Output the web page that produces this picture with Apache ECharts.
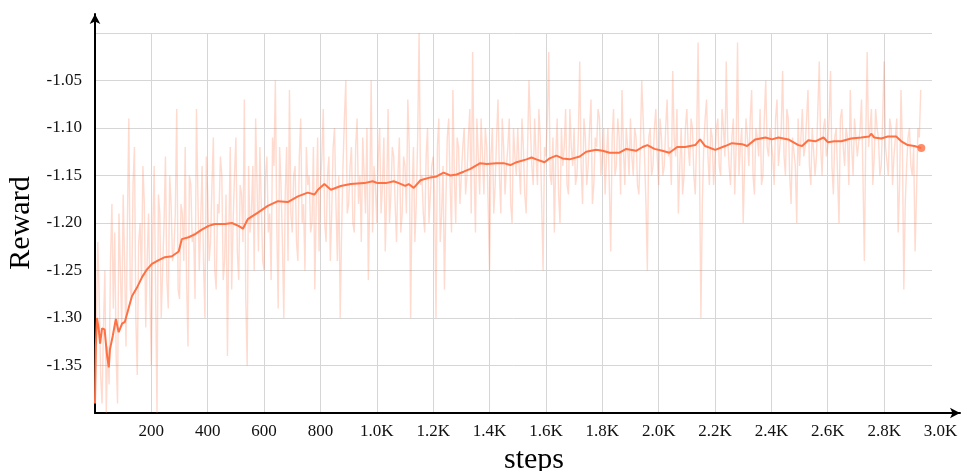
<!DOCTYPE html>
<html>
<head>
<meta charset="utf-8">
<script src="https://cdn.jsdelivr.net/npm/echarts@6/dist/echarts.min.js"></script>
<style>
  html, body {
    margin: 0;
    padding: 0;
    background: #fff;
  }
  #chart {
    width: 969px;
    height: 471px;
  }
</style>
</head>
<body>
<div id="chart"></div>
<script>
// raw reward, one value every 10 steps starting at step 0
let rawStep = 10
let rawValues = [
  -1.39, -1.22, -1.36, -1.31, -1.40, -1.37, -1.18, -1.21, -1.39, -1.25,
  -1.17, -1.33, -1.09, -1.28, -1.12, -1.36, -1.20, -1.14, -1.31, -1.19,
  -1.35, -1.14, -1.40, -1.19, -1.25, -1.13, -1.29, -1.18, -1.23, -1.08,
  -1.28, -1.19, -1.12, -1.33, -1.16, -1.21, -1.08, -1.25, -1.14, -1.30,
  -1.17, -1.22, -1.11, -1.27, -1.19, -1.15, -1.24, -1.34, -1.12, -1.20,
  -1.11, -1.26, -1.17, -1.07, -1.35, -1.21, -1.14, -1.09, -1.23, -1.18,
  -1.25, -1.13, -1.19, -1.11, -1.05, -1.29, -1.16, -1.30, -1.12, -1.06,
  -1.21, -1.14, -1.24, -1.09, -1.18, -1.12, -1.15, -1.20, -1.27, -1.11,
  -1.16, -1.08, -1.22, -1.13, -1.19, -1.10, -1.24, -1.30, -1.14, -1.05,
  -1.18, -1.12, -1.21, -1.09, -1.15, -1.11, -1.19, -1.26, -1.05, -1.14,
  -1.20, -1.10, -1.16, -1.23, -1.08, -1.17, -1.13, -1.22, -1.11, -1.19,
  -1.14, -1.07, -1.30, -1.12, -1.18, -1.00, -1.15, -1.21, -1.10, -1.17,
  -1.13, -1.30, -1.09, -1.19, -1.27, -1.11, -1.16, -1.06, -1.20, -1.12,
  -1.18, -1.10, -1.15, -1.08, -1.02, -1.21, -1.13, -1.09, -1.17, -1.12,
  -1.25, -1.10, -1.16, -1.07, -1.19, -1.12, -1.14, -1.09, -1.20, -1.13,
  -1.10, -1.17, -1.12, -1.19, -1.05, -1.14, -1.09, -1.16, -1.11, -1.25,
  -1.13, -1.02, -1.16, -1.21, -1.09, -1.20, -1.14, -1.08, -1.17, -1.12,
  -1.10, -1.15, -1.03, -1.18, -1.11, -1.14, -1.07, -1.16, -1.12, -1.09,
  -1.13, -1.17, -1.10, -1.23, -1.08, -1.14, -1.11, -1.06, -1.16, -1.12,
  -1.09, -1.15, -1.11, -1.17, -1.05, -1.13, -1.25, -1.10, -1.14, -1.08,
  -1.16, -1.11, -1.14, -1.07, -1.12, -1.04, -1.13, -1.19, -1.10, -1.15,
  -1.08, -1.14, -1.10, -1.17, -1.01, -1.30, -1.12, -1.07, -1.16, -1.11,
  -1.13, -1.09, -1.15, -1.10, -1.03, -1.14, -1.11, -1.17, -1.01, -1.12,
  -1.20, -1.09, -1.14, -1.06, -1.17, -1.11, -1.08, -1.15, -1.05, -1.13,
  -1.10, -1.16, -1.07, -1.12, -1.04, -1.15, -1.09, -1.18, -1.11, -1.20,
  -1.14, -1.08, -1.12, -1.06, -1.16, -1.10, -1.13, -1.03, -1.15, -1.09,
  -1.12, -1.04, -1.17, -1.10, -1.20, -1.08, -1.14, -1.11, -1.06, -1.15,
  -1.09, -1.13, -1.07, -1.24, -1.02, -1.12, -1.16, -1.08, -1.11, -1.14,
  -1.03, -1.12, -1.09, -1.16, -1.11, -1.21, -1.06, -1.27, -1.14, -1.10,
  -1.15, -1.23, -1.10, -1.06
]
// raw reward at the steps in between (5, 15, 25, ...)
let rawMidValues = [
  -1.30, -1.28, -1.39, -1.25, -1.33, -1.24, -1.29, -1.34, -1.19, -1.31,
  -1.24, -1.20, -1.27, -1.16, -1.30, -1.22, -1.26, -1.18, -1.24, -1.28,
  -1.21, -1.27, -1.17, -1.30, -1.20, -1.26, -1.15, -1.24, -1.19, -1.27,
  -1.18, -1.24, -1.26, -1.15, -1.22, -1.28, -1.17, -1.20, -1.24, -1.13,
  -1.24, -1.16, -1.25, -1.18, -1.13, -1.26, -1.17, -1.21, -1.27, -1.15,
  -1.23, -1.16, -1.22, -1.28, -1.14, -1.19, -1.25, -1.16, -1.12, -1.24,
  -1.15, -1.21, -1.26, -1.14, -1.20, -1.12, -1.22, -1.17, -1.24, -1.19,
  -1.15, -1.22, -1.13, -1.20, -1.25, -1.16, -1.21, -1.12, -1.18, -1.23,
  -1.13, -1.20, -1.15, -1.24, -1.12, -1.18, -1.15, -1.21, -1.09, -1.19,
  -1.14, -1.20, -1.12, -1.18, -1.22, -1.15, -1.10, -1.17, -1.21, -1.16,
  -1.13, -1.19, -1.11, -1.17, -1.20, -1.12, -1.18, -1.15, -1.21, -1.13,
  -1.19, -1.12, -1.17, -1.22, -1.11, -1.16, -1.19, -1.13, -1.20, -1.14,
  -1.17, -1.12, -1.22, -1.14, -1.18, -1.09, -1.21, -1.15, -1.11, -1.18,
  -1.12, -1.17, -1.11, -1.19, -1.14, -1.09, -1.17, -1.13, -1.10, -1.18,
  -1.13, -1.19, -1.11, -1.15, -1.09, -1.17, -1.12, -1.18, -1.10, -1.15,
  -1.14, -1.09, -1.17, -1.12, -1.10, -1.16, -1.13, -1.08, -1.18, -1.12,
  -1.09, -1.15, -1.11, -1.13, -1.17, -1.10, -1.12, -1.16, -1.08, -1.14,
  -1.16, -1.11, -1.14, -1.09, -1.16, -1.10, -1.18, -1.11, -1.08, -1.15,
  -1.10, -1.13, -1.16, -1.11, -1.15, -1.09, -1.17, -1.12, -1.10, -1.15,
  -1.13, -1.10, -1.16, -1.12, -1.09, -1.18, -1.11, -1.15, -1.10, -1.13,
  -1.09, -1.15, -1.10, -1.13, -1.16, -1.11, -1.08, -1.14, -1.17, -1.10,
  -1.12, -1.09, -1.15, -1.11, -1.14, -1.18, -1.09, -1.13, -1.10, -1.16,
  -1.10, -1.14, -1.08, -1.13, -1.11, -1.16, -1.09, -1.12, -1.15, -1.10,
  -1.14, -1.11, -1.09, -1.15, -1.10, -1.13, -1.16, -1.09, -1.12, -1.10,
  -1.13, -1.09, -1.14, -1.10, -1.13, -1.08, -1.15, -1.11, -1.14, -1.09,
  -1.11, -1.13, -1.09, -1.14, -1.10, -1.15, -1.08, -1.12, -1.10, -1.13,
  -1.09, -1.14, -1.11, -1.15, -1.09, -1.12, -1.10, -1.16, -1.12, -1.09,
  -1.13, -1.10, -1.15, -1.11, -1.12, -1.08, -1.13, -1.10, -1.15, -1.09,
  -1.12, -1.15, -1.10, -1.13, -1.09, -1.16, -1.12, -1.18, -1.11, -1.14,
  -1.12, -1.17, -1.11
]

// smoothed curve
let smoothSteps = [
  0, 3, 7, 13, 18, 25, 34, 43, 49, 53, 63, 74, 84, 96, 106, 119, 131, 149,
  167, 184, 202, 226, 248, 273, 297, 308, 332, 354, 379, 403, 425, 461, 486,
  509, 525, 542, 578, 613, 649, 684, 720, 755, 779, 791, 814, 837, 872, 907,
  956, 985, 1003, 1032, 1060, 1078, 1101, 1113, 1131, 1155, 1190, 1212,
  1237, 1261, 1283, 1308, 1332, 1367, 1390, 1425, 1450, 1474, 1496, 1531,
  1549, 1566, 1595, 1613, 1637, 1659, 1684, 1720, 1743, 1778, 1801, 1826,
  1861, 1885, 1920, 1943, 1960, 1985, 2013, 2038, 2066, 2094, 2130, 2147,
  2165, 2201, 2236, 2260, 2296, 2314, 2343, 2379, 2402, 2425, 2460, 2496,
  2509, 2531, 2556, 2585, 2601, 2623, 2648, 2683, 2719, 2747, 2754, 2765,
  2790, 2813, 2843, 2861, 2884, 2907, 2932
]
let smoothValues = [
  -1.390, -1.330, -1.300, -1.311, -1.327, -1.311, -1.312, -1.340, -1.352,
  -1.333, -1.319, -1.301, -1.315, -1.306, -1.304, -1.290, -1.277, -1.268,
  -1.257, -1.249, -1.243, -1.239, -1.236, -1.235, -1.230, -1.217, -1.215,
  -1.212, -1.207, -1.203, -1.201, -1.201, -1.200, -1.203, -1.206, -1.196,
  -1.189, -1.182, -1.177, -1.178, -1.172, -1.168, -1.170, -1.165, -1.159,
  -1.165, -1.161, -1.159, -1.158, -1.156, -1.158, -1.158, -1.156, -1.158,
  -1.161, -1.159, -1.163, -1.155, -1.152, -1.151, -1.147, -1.150, -1.149,
  -1.146, -1.143, -1.137, -1.138, -1.137, -1.137, -1.139, -1.136, -1.133,
  -1.131, -1.133, -1.136, -1.132, -1.129, -1.132, -1.133, -1.130, -1.125,
  -1.123, -1.124, -1.126, -1.126, -1.122, -1.124, -1.120, -1.118, -1.122,
  -1.124, -1.126, -1.120, -1.120, -1.118, -1.112, -1.119, -1.123, -1.119,
  -1.116, -1.117, -1.119, -1.112, -1.110, -1.112, -1.110, -1.112, -1.118,
  -1.119, -1.113, -1.114, -1.110, -1.115, -1.114, -1.114, -1.111, -1.110,
  -1.109, -1.106, -1.110, -1.111, -1.109, -1.109, -1.114, -1.118, -1.119,
  -1.121
]

let yTicks = [-1.35, -1.30, -1.25, -1.20, -1.15, -1.10, -1.05]

let rawData = []
rawValues.forEach((v, i) => {
  rawData.push([i * rawStep, v])
  if (i < rawMidValues.length) rawData.push([i * rawStep + rawStep / 2, rawMidValues[i]])
})
let smoothData = smoothSteps.map((s, i) => [s, smoothValues[i]])
let lastPoint = smoothData[smoothData.length - 1]

let serif = 'Liberation Serif'
let orange = '#ff7043'

let myChart = echarts.init(document.getElementById('chart'))
myChart.setOption({
  animation: false,
  grid: [
    // plot area
    { left: 95, right: 37, top: 33, bottom: 58, outerBoundsMode: 'none' },
    // axes with arrows
    { left: 95, right: 9, top: 14, bottom: 58, outerBoundsMode: 'none' }
  ],
  xAxis: [
    {
      gridIndex: 0,
      type: 'value',
      min: 0,
      max: 2970,
      interval: 200,
      axisLine: { show: false },
      axisTick: { show: false },
      axisLabel: { show: false },
      splitLine: {
        show: true,
        showMaxLine: false,
        lineStyle: { color: '#d6d6d6', width: 1 }
      }
    },
    {
      gridIndex: 1,
      type: 'value',
      min: 0,
      max: 3069,
      interval: 200,
      name: 'steps',
      nameLocation: 'middle',
      nameGap: 19,
      nameTextStyle: { fontFamily: serif, fontSize: 30, color: '#000', padding: [0, 0, 0, 13] },
      axisLine: {
        show: true,
        symbol: ['none', 'arrow'],
        symbolSize: [8, 10],
        lineStyle: { color: '#000', width: 2 }
      },
      axisTick: { show: false },
      splitLine: { show: false },
      axisLabel: {
        fontFamily: serif,
        fontSize: 17,
        color: '#111',
        margin: 10,
        formatter: (value) => {
          if (value <= 0 || value % 200 !== 0) return ''
          if (value >= 1000) return (value / 1000).toFixed(1) + 'K'
          return value + ''
        }
      }
    }
  ],
  yAxis: [
    {
      gridIndex: 0,
      type: 'value',
      min: -1.40,
      max: -1.00,
      interval: 0.05,
      name: 'Reward',
      nameLocation: 'middle',
      nameGap: 55,
      nameTextStyle: { fontFamily: serif, fontSize: 30, color: '#000' },
      axisLine: { show: false },
      axisTick: { show: false },
      splitLine: {
        show: true,
        lineStyle: { color: '#d6d6d6', width: 1 }
      },
      axisLabel: {
        fontFamily: serif,
        fontSize: 17,
        color: '#111',
        margin: 13,
        formatter: (value) => {
          let hit = yTicks.find(t => Math.abs(t - value) < 1e-6)
          return hit === undefined ? '' : hit.toFixed(2)
        }
      }
    },
    {
      gridIndex: 1,
      type: 'value',
      min: -1.40,
      max: -0.98,
      axisLine: {
        show: true,
        symbol: ['none', 'arrow'],
        symbolSize: [8, 10],
        lineStyle: { color: '#000', width: 2 }
      },
      axisTick: { show: false },
      axisLabel: { show: false },
      splitLine: { show: false }
    }
  ],
  series: [
    {
      name: 'raw',
      type: 'line',
      xAxisIndex: 0,
      yAxisIndex: 0,
      data: rawData,
      showSymbol: false,
      symbol: 'none',
      lineStyle: { color: 'rgba(255, 112, 67, 0.26)', width: 1.4 },
      z: 2
    },
    {
      name: 'smoothed',
      type: 'line',
      xAxisIndex: 0,
      yAxisIndex: 0,
      data: smoothData,
      showSymbol: false,
      symbol: 'none',
      lineStyle: { color: orange, width: 2 },
      z: 3
    },
    {
      name: 'last',
      type: 'scatter',
      xAxisIndex: 0,
      yAxisIndex: 0,
      data: [lastPoint],
      symbolSize: 8,
      itemStyle: { color: orange },
      z: 4
    }
  ]
})
</script>
</body>
</html>
